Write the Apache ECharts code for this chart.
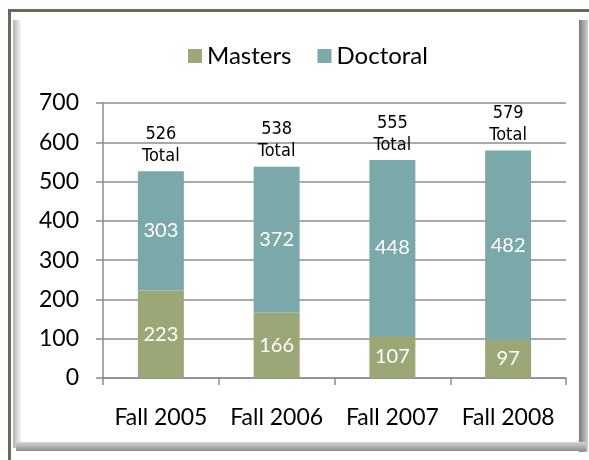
<!DOCTYPE html>
<html>
<head>
<meta charset="utf-8">
<script src="https://cdn.jsdelivr.net/npm/echarts@6/dist/echarts.min.js"></script>
<style>
html,body{margin:0;padding:0;background:#fff;}
#container{width:589px;height:460px;}
</style>
</head>
<body>
<div id="container"></div>
<script>
var terms = ['Fall 2005', 'Fall 2006', 'Fall 2007', 'Fall 2008'];
var masters = [223, 166, 107, 97];
var doctoral = [303, 372, 448, 482];
var totals = [526, 538, 555, 579];
var zeros = [0, 0, 0, 0];

var dom = document.getElementById("container");
var myChart = echarts.init(dom);

function grad(x2, y2, c1, c2){
	return new echarts.graphic.LinearGradient(0, 0, x2, y2, [
		{offset: 0, color: c1},
		{offset: 1, color: c2}
	]);
}

var option = {
	backgroundColor: '#ffffff',
	animation: false,
	color: ['#9BA776', '#7BA8A8'],
	graphic: [
		// frame: dark line top/left, grey bevel left/right/bottom
		{type: 'rect', shape: {x: 13, y: 20, width: 9, height: 428}, style: {fill: grad(1, 0, '#b4b4b4', '#ffffff')}, silent: true},
		{type: 'rect', shape: {x: 579, y: 20, width: 9, height: 432}, style: {fill: grad(1, 0, '#7a7a7a', '#d0d0d0')}, silent: true},
		{type: 'rect', shape: {x: 16, y: 442, width: 570, height: 9}, style: {fill: grad(0, 1, '#d6d6d6', '#8e8e8e')}, silent: true},
		{type: 'rect', shape: {x: 8, y: 9, width: 581, height: 3}, style: {fill: '#6f6856'}, silent: true},
		{type: 'rect', shape: {x: 8, y: 9, width: 3, height: 451}, style: {fill: '#6f6856'}, silent: true}
	],
	legend: {
		data: ['Masters', 'Doctoral'],
		left: 183,
		top: 39,
		itemWidth: 14,
		itemHeight: 14,
		itemGap: 26,
		icon: 'rect',
		textStyle: {
			fontFamily: 'Lato',
			fontSize: 24,
			color: '#000'
		}
	},
	grid: {
		left: 103,
		right: 23,
		top: 103,
		bottom: 82,
		containLabel: false
	},
	xAxis: {
		type: 'category',
		data: terms,
		axisLine: {lineStyle: {color: '#8c8c8c', width: 1.5}},
		axisTick: {show: true, length: 7, lineStyle: {color: '#8c8c8c', width: 1.5}},
		axisLabel: {
			interval: 0,
			margin: 28,
			fontFamily: 'Lato',
			fontSize: 23,
			color: '#000'
		}
	},
	yAxis: {
		type: 'value',
		min: 0,
		max: 700,
		interval: 100,
		axisLine: {show: true, lineStyle: {color: '#8c8c8c', width: 1.5}},
		axisTick: {show: true, length: 7, lineStyle: {color: '#8c8c8c', width: 1.5}},
		splitLine: {lineStyle: {color: '#8c8c8c', width: 1.5}},
		axisLabel: {
			margin: 24,
			fontFamily: 'Lato',
			fontSize: 23,
			color: '#000'
		}
	},
	series: [
		{
			name: 'Masters',
			type: 'bar',
			stack: 'all',
			barWidth: 46,
			data: masters,
			label: {
				show: true,
				position: 'inside',
				color: '#fff',
				fontFamily: 'Lato',
				fontSize: 20
			}
		},
		{
			name: 'Doctoral',
			type: 'bar',
			stack: 'all',
			barWidth: 46,
			data: doctoral,
			label: {
				show: true,
				position: 'inside',
				color: '#fff',
				fontFamily: 'Lato',
				fontSize: 20
			}
		},
		{
			name: 'Total',
			type: 'bar',
			stack: 'all',
			barWidth: 46,
			data: zeros,
			itemStyle: {color: 'rgba(0,0,0,0)'},
			label: {
				show: true,
				position: 'top',
				distance: 4,
				color: '#000',
				fontFamily: "'Liberation Sans Narrow', 'DejaVu Sans Condensed', 'Liberation Sans', sans-serif",
				fontSize: 18,
				lineHeight: 22,
				formatter: function(p){
					return totals[p.dataIndex] + '\nTotal';
				}
			}
		}
	]
};

myChart.setOption(option);
</script>
</body>
</html>
